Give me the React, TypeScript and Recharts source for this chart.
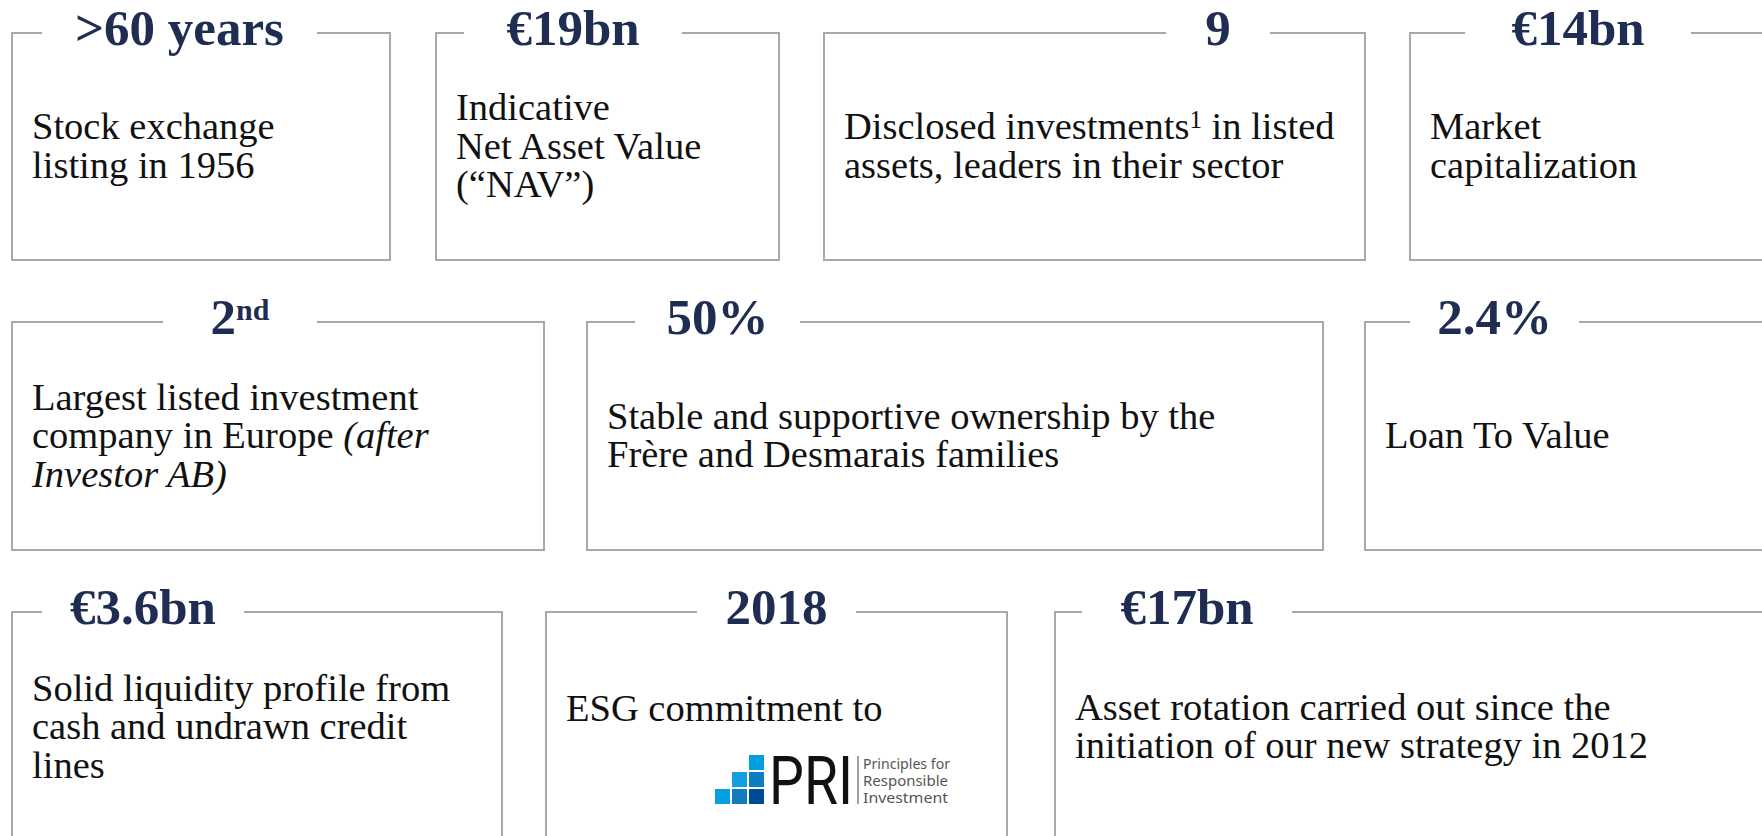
import React from "react";
import { ScatterChart, Scatter, XAxis, YAxis } from "recharts";

const W = 1762;
const H = 836;

// key figures (headline of each card), "^" marks a superscript
const headlines = [">60 years", "€19bn", "9", "€14bn", "2^nd", "50%", "2.4%", "€3.6bn", "2018", "€17bn"];

// card texts, one string per line; "^x" = superscript, "*...*" = italic
const descriptions = [
  ["Stock exchange", "listing in 1956"],
  ["Indicative", "Net Asset Value", "(“NAV”)"],
  ["Disclosed investments^1 in listed", "assets, leaders in their sector"],
  ["Market", "capitalization"],
  ["Largest listed investment", "company in Europe *(after*", "*Investor AB)*"],
  ["Stable and supportive ownership by the", "Frère and Desmarais families"],
  ["Loan To Value"],
  ["Solid liquidity profile from", "cash and undrawn credit", "lines"],
  ["ESG commitment to"],
  ["Asset rotation carried out since the", "initiation of our new strategy in 2012"],
];

const priLogoLines = ["Principles for", "Responsible", "Investment"];

// card geometry (px), gap = opening in the top border for the headline
const boxes = [
  { left: 12, top: 33, right: 390, bottom: 260, gap: [42, 317] },
  { left: 436, top: 33, right: 779, bottom: 260, gap: [464, 682] },
  { left: 824, top: 33, right: 1365, bottom: 260, gap: [1166, 1270] },
  { left: 1410, top: 33, right: 1800, bottom: 260, gap: [1465, 1691] },
  { left: 12, top: 322, right: 544, bottom: 550, gap: [163, 317] },
  { left: 587, top: 322, right: 1323, bottom: 550, gap: [635, 800] },
  { left: 1365, top: 322, right: 1800, bottom: 550, gap: [1410, 1579] },
  { left: 12, top: 612, right: 502, bottom: 842, gap: [42, 244] },
  { left: 546, top: 612, right: 1007, bottom: 842, gap: [697, 856] },
  { left: 1055, top: 612, right: 1800, bottom: 842, gap: [1082, 1292] },
];

const NAVY = "#1f2d52";
const BORDER = "#a8a8a8";
const SERIF = "'Liberation Serif', 'Times New Roman', serif";
const LINE = 38.5;

const cards = boxes.map((b, i) => ({
  x: b.left,
  y: b.top,
  w: b.right - b.left,
  h: b.bottom - b.top,
  gap: b.gap,
  headline: headlines[i],
  lines: descriptions[i],
  logo: i === 8,
}));

function renderRich(str: string, supShift: number, supSize: string) {
  const parts = str.split(/(\^\w+|\*[^*]+\*)/).filter((p) => p !== "");
  const out: React.ReactNode[] = [];
  let raised = false;
  parts.forEach((p, k) => {
    if (p.startsWith("^")) {
      out.push(
        <tspan key={k} dy={-supShift} fontSize={supSize}>
          {p.slice(1)}
        </tspan>
      );
      raised = true;
    } else {
      const italic = p.startsWith("*");
      out.push(
        <tspan key={k} dy={raised ? supShift : undefined} fontStyle={italic ? "italic" : undefined}>
          {italic ? p.slice(1, -1) : p}
        </tspan>
      );
      raised = false;
    }
  });
  return out;
}

const PriLogo = ({ x, y }: { x: number; y: number }) => {
  const s = 15;
  const step = 17;
  const squares = [
    { c: 2, r: 0, fill: "#009fe3" },
    { c: 1, r: 1, fill: "#159ddf" },
    { c: 2, r: 1, fill: "#0b7dc3" },
    { c: 0, r: 2, fill: "#05a0e0" },
    { c: 1, r: 2, fill: "#157ac0" },
    { c: 2, r: 2, fill: "#004b98" },
  ];
  return (
    <g>
      {squares.map((q, k) => (
        <rect key={k} x={x + q.c * step} y={y + q.r * step} width={s} height={s} fill={q.fill} />
      ))}
      <g transform={`translate(${x + 54},${y + 49}) scale(1,1.16)`}>
        <text
          x={0}
          y={0}
          fontFamily="Roboto, sans-serif"
          fontSize={58}
          fill="#111"
          textLength={84}
          lengthAdjust="spacingAndGlyphs"
        >
          PRI
        </text>
      </g>
      <line x1={x + 143} y1={y + 1} x2={x + 143} y2={y + 49} stroke="#444" strokeWidth={1} />
      {priLogoLines.map((t, k) => (
        <text
          key={k}
          x={x + 148}
          y={y + 14 + k * 17}
          fontFamily="'Noto Sans', sans-serif"
          fontSize={14}
          fill="#555"
          textLength={k === 0 ? 87 : 85}
          lengthAdjust="spacingAndGlyphs"
        >
          {t}
        </text>
      ))}
    </g>
  );
};

const Card = (props: any) => {
  const { cx, cy, payload } = props;
  if (cx == null || cy == null) return null;
  const { w, h, gap, headline, lines, logo } = payload;
  const x0 = cx;
  const y0 = cy;
  const x1 = x0 + w;
  const y1 = y0 + h;
  const g0 = gap[0] - payload.x + x0;
  const g1 = gap[1] - payload.x + x0;
  const d = `M${g0},${y0} L${x0},${y0} L${x0},${y1} L${x1},${y1} L${x1},${y0} L${g1},${y0}`;
  const center = (y0 + y1) / 2 + (logo ? -18 : 0);
  const n = lines.length;
  return (
    <g>
      <path d={d} fill="none" stroke={BORDER} strokeWidth={2} />
      <text
        x={(g0 + g1) / 2}
        y={y0 + 12}
        textAnchor="middle"
        fontFamily={SERIF}
        fontWeight="bold"
        fontSize={51}
        fill={NAVY}
      >
        {renderRich(headline, 14, "30px")}
      </text>
      {lines.map((ln: string, k: number) => (
        <text
          key={k}
          x={x0 + 20}
          y={center + (k - (n - 1) / 2) * LINE + 12}
          fontFamily={SERIF}
          fontSize={38.5}
          fill="#111"
        >
          {renderRich(ln, 11, "25px")}
        </text>
      ))}
      {logo && <PriLogo x={x0 + 169} y={y0 + 143} />}
    </g>
  );
};

export default function App() {
  return (
    <div style={{ position: "absolute", left: 0, top: 0, width: W, height: H, background: "#fff" }}>
      <ScatterChart width={W} height={H} margin={{ top: 0, right: 0, bottom: 0, left: 0 }}>
        <XAxis type="number" dataKey="x" domain={[0, W]} hide />
        <YAxis type="number" dataKey="y" domain={[0, H]} reversed hide />
        <Scatter data={cards} shape={(p: any) => <Card {...p} />} isAnimationActive={false} />
      </ScatterChart>
    </div>
  );
}
